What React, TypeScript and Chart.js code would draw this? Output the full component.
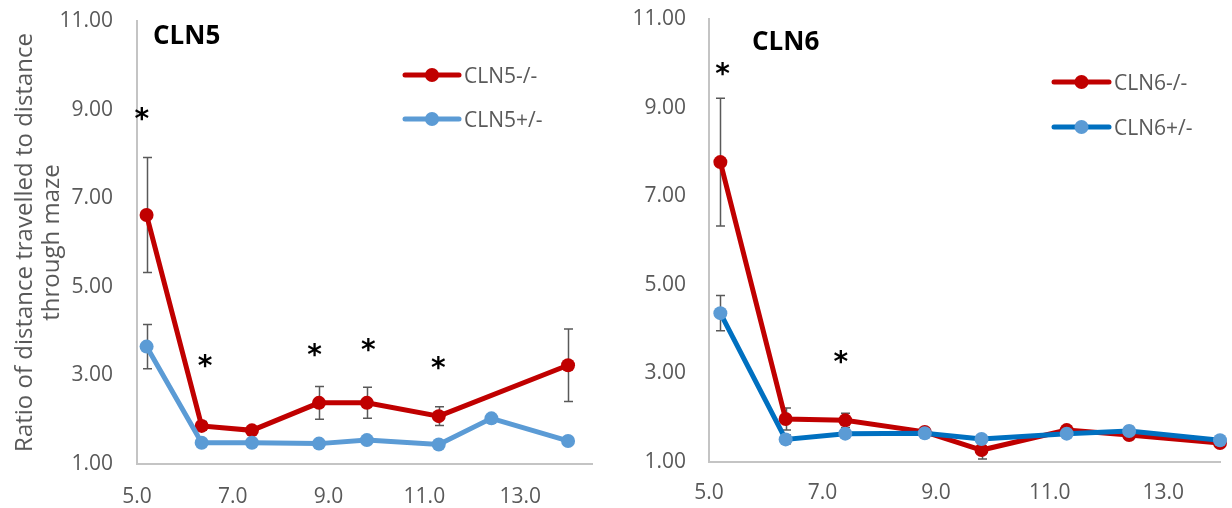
import React, { useEffect, useRef } from "react";
import { Chart, registerables } from "chart.js";

Chart.register(...registerables);

// Age (x) at which each maze trial was run
const WEEKS = [5.2, 6.35, 7.4, 8.8, 9.8, 11.3, 12.4, 14.0];

const X_TICKS = [5, 7, 9, 11, 13];
const Y_TICKS = [1, 3, 5, 7, 9, 11];
const Y_TITLE = ["Ratio of distance travelled to distance", "through maze"];

// CLN5 panel
const CLN5_TITLE = "CLN5";
const CLN5_KO_LABEL = "CLN5-/-";
const CLN5_HET_LABEL = "CLN5+/-";
const CLN5_KO = [6.62, 1.86, 1.76, 2.38, 2.38, 2.08, null, 3.23];
const CLN5_KO_ERR = [1.3, 0.1, 0.08, 0.37, 0.35, 0.21, null, 0.82];
const CLN5_HET = [3.65, 1.48, 1.48, 1.46, 1.54, 1.44, 2.03, 1.52];
const CLN5_HET_ERR = [0.5, 0.05, 0.05, 0.05, 0.05, 0.05, 0.08, 0.05];
const CLN5_STAR_X = [5.1, 6.42, 8.71, 9.83, 11.29];
const CLN5_STAR_Y = [8.9, 3.33, 3.57, 3.69, 3.28];

// CLN6 panel
const CLN6_TITLE = "CLN6";
const CLN6_KO_LABEL = "CLN6-/-";
const CLN6_HET_LABEL = "CLN6+/-";
const CLN6_KO = [7.77, 1.97, 1.94, 1.68, 1.27, 1.72, 1.61, 1.43];
const CLN6_KO_ERR = [1.44, 0.25, 0.16, 0.05, 0.2, 0.08, 0.1, 0.05];
const CLN6_HET = [4.36, 1.51, 1.64, 1.65, 1.52, 1.64, 1.7, 1.49];
const CLN6_HET_ERR = [0.4, 0.1, 0.05, 0.05, 0.05, 0.05, 0.1, 0.05];
const CLN6_STAR_X = [5.24, 7.32];
const CLN6_STAR_Y = [9.88, 3.38];

const RED = "#C00000";
const LIGHT_BLUE = "#5B9BD5";
const DARK_BLUE = "#0070C0";
const TEXT_GREY = "#595959";
const AXIS_GREY = "#C4C4C4";
const FONT = "'Open Sans', sans-serif";

const toPoints = (vals: (number | null)[]) => WEEKS.map((x, i) => ({ x, y: vals[i] }));

// Vertical error bars with caps, drawn under the lines
const errorBarsPlugin = {
  id: "errorBars",
  beforeDatasetsDraw(chart: any) {
    const { ctx } = chart;
    const xs = chart.scales.x;
    const ys = chart.scales.y;
    ctx.save();
    ctx.strokeStyle = TEXT_GREY;
    ctx.lineWidth = 1.5;
    chart.data.datasets.forEach((ds: any) => {
      const err = ds.errors as (number | null)[];
      if (!err) return;
      ds.data.forEach((p: any, j: number) => {
        if (p.y == null || err[j] == null) return;
        const px = Math.round(xs.getPixelForValue(p.x)) + 0.5;
        const top = ys.getPixelForValue(p.y + err[j]!);
        const bot = ys.getPixelForValue(p.y - err[j]!);
        ctx.beginPath();
        ctx.moveTo(px, top);
        ctx.lineTo(px, bot);
        ctx.moveTo(px - 4.5, top);
        ctx.lineTo(px + 4.5, top);
        ctx.moveTo(px - 4.5, bot);
        ctx.lineTo(px + 4.5, bot);
        ctx.stroke();
      });
    });
    ctx.restore();
  },
};

// Legend placed inside the plot, plus the panel title and significance stars
const panelDecorPlugin = {
  id: "panelDecor",
  afterDatasetsDraw(chart: any, _args: any, opts: any) {
    const { ctx } = chart;
    const xs = chart.scales.x;
    const ys = chart.scales.y;
    ctx.save();

    // legend
    chart.data.datasets.forEach((ds: any, i: number) => {
      const y = opts.legendY + i * opts.legendGap;
      ctx.strokeStyle = ds.borderColor;
      ctx.lineWidth = ds.borderWidth;
      ctx.lineCap = "round";
      ctx.beginPath();
      ctx.moveTo(opts.legendX, y);
      ctx.lineTo(opts.legendX + opts.legendLen, y);
      ctx.stroke();
      ctx.fillStyle = ds.pointBackgroundColor;
      ctx.beginPath();
      ctx.arc(opts.legendX + opts.legendLen / 2, y, ds.pointRadius, 0, Math.PI * 2);
      ctx.fill();
      ctx.fillStyle = TEXT_GREY;
      ctx.font = `21px ${FONT}`;
      ctx.textAlign = "left";
      ctx.textBaseline = "alphabetic";
      ctx.fillText(ds.label, opts.legendX + opts.legendLen + 5, y + 7.5);
    });

    // title
    ctx.fillStyle = "#000";
    ctx.font = `bold 26px ${FONT}`;
    ctx.textAlign = "left";
    ctx.textBaseline = "alphabetic";
    ctx.fillText(opts.title, opts.titleX, opts.titleY);

    // stars
    ctx.font = `bold 28px 'DejaVu Sans', sans-serif`;
    ctx.textAlign = "center";
    (opts.starX as number[]).forEach((sx, i) => {
      const px = xs.getPixelForValue(sx);
      const py = ys.getPixelForValue(opts.starY[i]);
      const m = ctx.measureText("*");
      const off = (m.actualBoundingBoxAscent - m.actualBoundingBoxDescent) / 2;
      ctx.fillText("*", px, py + off);
    });

    ctx.restore();
  },
};

const clearPadding = (s: any) => {
  s.paddingTop = 0;
  s.paddingBottom = 0;
  s.paddingLeft = 0;
  s.paddingRight = 0;
};

function makeConfig(p: {
  ko: (number | null)[];
  koErr: (number | null)[];
  het: (number | null)[];
  hetErr: (number | null)[];
  koLabel: string;
  hetLabel: string;
  hetLine: string;
  xMax: number;
  yWidth: number;
  yPad: number;
  xHeight: number;
  xPad: number;
  padTop: number;
  padRight: number;
  showTitle: boolean;
  decor: any;
}) {
  return {
    type: "line",
    data: {
      datasets: [
        {
          label: p.koLabel,
          data: toPoints(p.ko),
          errors: p.koErr,
          borderColor: RED,
          backgroundColor: RED,
          pointBackgroundColor: RED,
          borderWidth: 5,
          pointRadius: 7,
          pointHoverRadius: 7,
          pointBorderWidth: 0,
          spanGaps: true,
          tension: 0,
          clip: false,
          order: 1,
        },
        {
          label: p.hetLabel,
          data: toPoints(p.het),
          errors: p.hetErr,
          borderColor: p.hetLine,
          backgroundColor: LIGHT_BLUE,
          pointBackgroundColor: LIGHT_BLUE,
          borderWidth: 5,
          pointRadius: 7,
          pointHoverRadius: 7,
          pointBorderWidth: 0,
          spanGaps: true,
          tension: 0,
          clip: false,
          order: 0,
        },
      ],
    },
    options: {
      responsive: false,
      animation: false,
      devicePixelRatio: 1,
      events: [],
      layout: { padding: { top: p.padTop, right: p.padRight, left: 0, bottom: 0 } },
      plugins: {
        legend: { display: false },
        tooltip: { enabled: false },
        panelDecor: p.decor,
      },
      scales: {
        x: {
          type: "linear",
          min: 5,
          max: p.xMax,
          afterBuildTicks: (s: any) => {
            s.ticks = X_TICKS.map((v) => ({ value: v }));
          },
          afterFit: (s: any) => {
            s.height = p.xHeight;
            clearPadding(s);
          },
          grid: { display: false, drawTicks: false },
          border: { display: true, color: AXIS_GREY, width: 2 },
          ticks: {
            padding: p.xPad,
            color: TEXT_GREY,
            font: { size: 21, family: FONT },
            maxRotation: 0,
            autoSkip: false,
            callback: (v: any) => Number(v).toFixed(1),
          },
        },
        y: {
          type: "linear",
          min: 1,
          max: 11,
          afterBuildTicks: (s: any) => {
            s.ticks = Y_TICKS.map((v) => ({ value: v }));
          },
          afterFit: (s: any) => {
            s.width = p.yWidth;
            clearPadding(s);
          },
          grid: { display: false, drawTicks: false },
          border: { display: true, color: AXIS_GREY, width: 2 },
          ticks: {
            padding: p.yPad,
            color: TEXT_GREY,
            font: { size: 21, family: FONT },
            autoSkip: false,
            callback: (v: any) => Number(v).toFixed(2),
          },
          title: {
            display: p.showTitle,
            text: Y_TITLE,
            color: TEXT_GREY,
            font: { size: 24, family: FONT, lineHeight: 1.15 },
            padding: { top: 11, bottom: 0 },
          },
        },
      },
    },
    plugins: [errorBarsPlugin, panelDecorPlugin],
  };
}

function Panel({ config, left, width }: { config: any; left: number; width: number }) {
  const ref = useRef<HTMLCanvasElement>(null);
  useEffect(() => {
    let chart: Chart | null = null;
    let cancelled = false;
    const fonts = (document as any).fonts;
    const ready = fonts
      ? Promise.all([
          fonts.load(`21px 'Open Sans'`),
          fonts.load(`bold 26px 'Open Sans'`),
          fonts.load(`bold 28px 'DejaVu Sans'`),
        ]).catch(() => null)
      : Promise.resolve(null);
    ready.then(() => {
      if (cancelled || !ref.current) return;
      chart = new Chart(ref.current, config);
    });
    return () => {
      cancelled = true;
      if (chart) chart.destroy();
    };
  }, []);
  return (
    <canvas
      ref={ref}
      width={width}
      height={508}
      style={{ position: "absolute", left, top: 0, width, height: 508 }}
    />
  );
}

const cln5Config = makeConfig({
  ko: CLN5_KO,
  koErr: CLN5_KO_ERR,
  het: CLN5_HET,
  hetErr: CLN5_HET_ERR,
  koLabel: CLN5_KO_LABEL,
  hetLabel: CLN5_HET_LABEL,
  hetLine: LIGHT_BLUE,
  xMax: 14.5,
  yWidth: 137,
  yPad: 24,
  xHeight: 44,
  xPad: 20,
  padTop: 21,
  padRight: 18,
  showTitle: true,
  decor: {
    title: CLN5_TITLE,
    titleX: 153,
    titleY: 44,
    legendX: 405,
    legendLen: 54,
    legendY: 75,
    legendGap: 44,
    starX: CLN5_STAR_X,
    starY: CLN5_STAR_Y,
  },
});

const cln6Config = makeConfig({
  ko: CLN6_KO,
  koErr: CLN6_KO_ERR,
  het: CLN6_HET,
  hetErr: CLN6_HET_ERR,
  koLabel: CLN6_KO_LABEL,
  hetLabel: CLN6_HET_LABEL,
  hetLine: DARK_BLUE,
  xMax: 14,
  yWidth: 89,
  yPad: 23,
  xHeight: 46,
  xPad: 18,
  padTop: 19,
  padRight: 12,
  showTitle: false,
  decor: {
    title: CLN6_TITLE,
    titleX: 132,
    titleY: 50,
    legendX: 434,
    legendLen: 55,
    legendY: 82,
    legendGap: 45,
    starX: CLN6_STAR_X,
    starY: CLN6_STAR_Y,
  },
});

export default function App() {
  return (
    <div
      style={{
        position: "fixed",
        left: 0,
        top: 0,
        width: 1232,
        height: 508,
        background: "#fff",
        overflow: "hidden",
      }}
    >
      <Panel config={cln5Config} left={0} width={610} />
      <Panel config={cln6Config} left={620} width={612} />
    </div>
  );
}
